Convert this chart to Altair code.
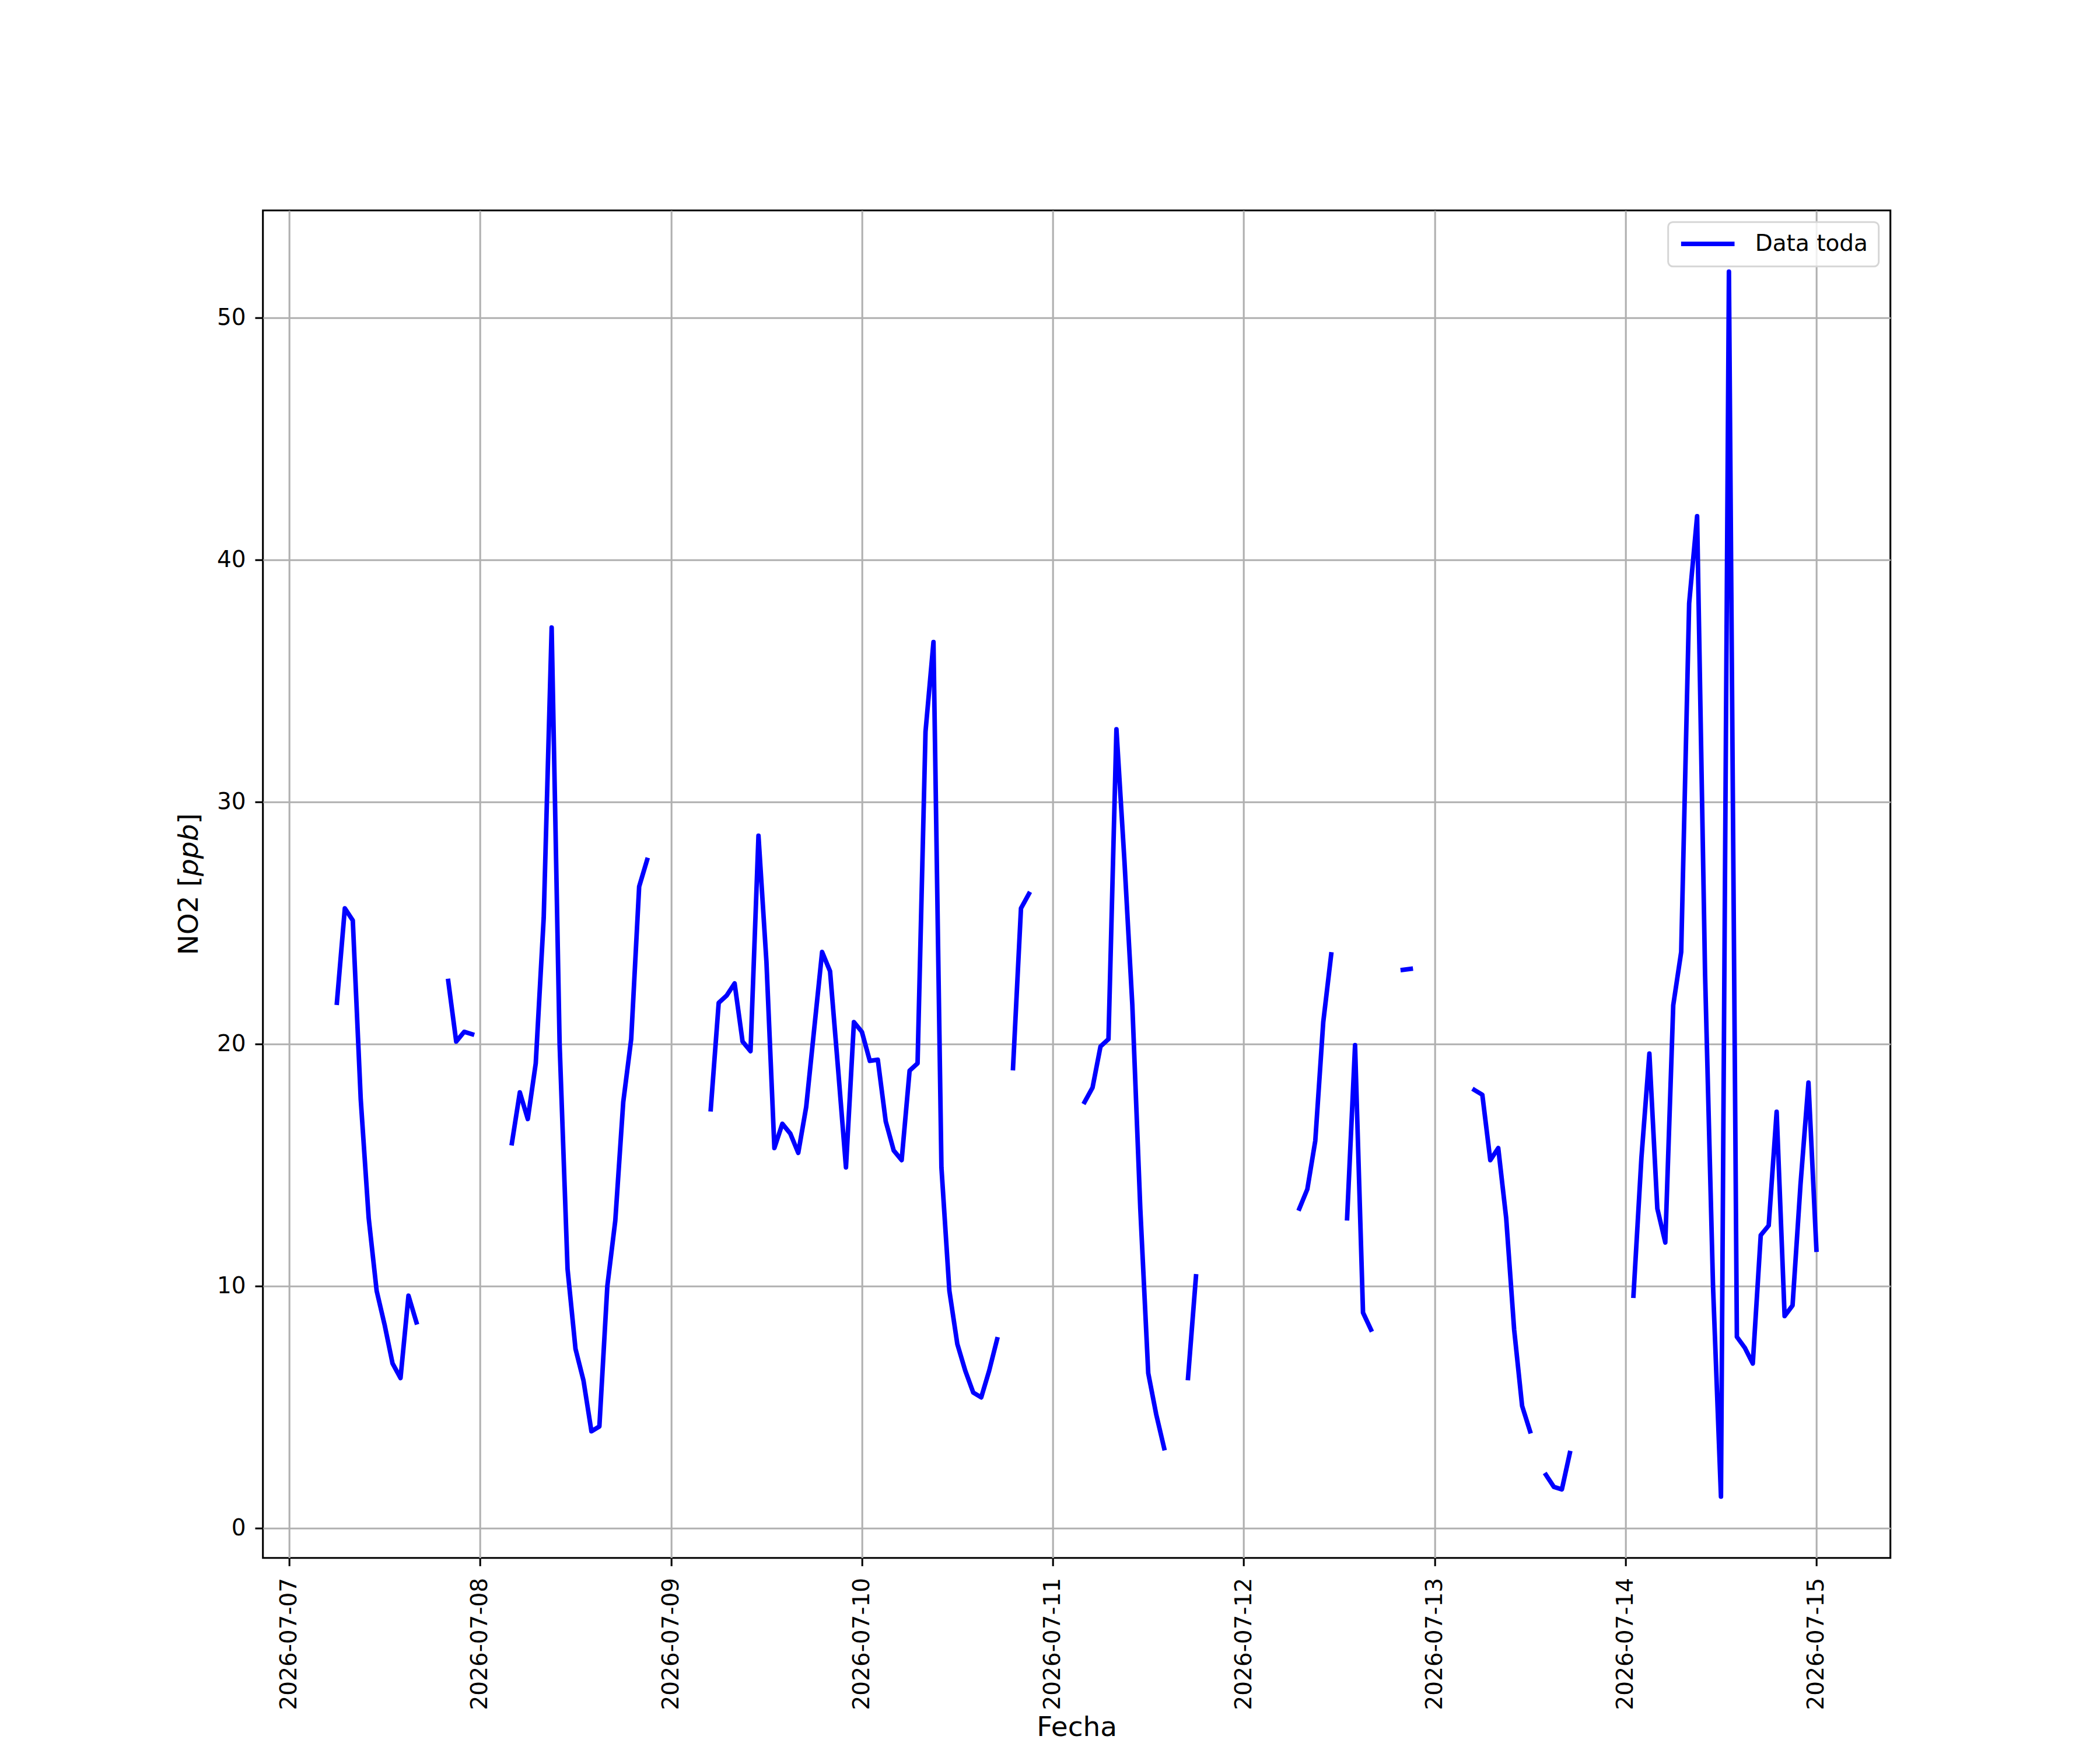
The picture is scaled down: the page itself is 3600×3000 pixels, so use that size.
import altair as alt
import pandas as pd

# Hourly NO2 values (ppb) per day, hours 00..23 (None = no data)
d0707 = [None, None, None, None, None, None, 21.7, 25.6, 25.1, 17.7, 12.8, 9.8,
         8.4, 6.8, 6.2, 9.6, 8.5, None, None, None, 22.6, 20.1, 20.5, 20.4]
d0708 = [None, None, None, None, 15.9, 18.0, 16.9, 19.2, 25.2, 37.2, 20.0, 10.7,
         7.4, 6.1, 4.0, 4.2, 10.0, 12.7, 17.6, 20.2, 26.5, 27.6, None, None]
d0709 = [None, None, None, None, None, 17.3, 21.7, 22.0, 22.5, 20.1, 19.7, 28.6,
         23.4, 15.7, 16.7, 16.3, 15.5, 17.4, 20.6, 23.8, 23.0, 19.0, 14.9, 20.9]
d0710 = [20.5, 19.3, 19.35, 16.8, 15.6, 15.2, 18.9, 19.2, 32.9, 36.6, 14.9, 9.8,
         7.6, 6.5, 5.6, 5.4, 6.5, 7.8, None, 19.0, 25.6, 26.2, None, None]
d0711 = [None, None, None, None, 17.6, 18.2, 19.9, 20.2, 33.0, 27.6, 21.6, 13.2,
         6.4, 4.7, 3.3, None, None, 6.2, 10.4, None, None, None, None, None]
d0712 = [None, None, None, None, None, None, None, 13.2, 14.0, 16.0, 20.9, 23.7,
         None, 12.8, 19.95, 8.9, 8.2, None, None, None, 23.06, 23.1, None, None]
d0713 = [None, None, None, None, None, 18.1, 17.9, 15.2, 15.7, 12.8, 8.2, 5.05,
         4.0, None, 2.2, 1.7, 1.6, 3.1, None, None, None, None, None, None]
d0714 = [None, 9.6, 15.3, 19.6, 13.2, 11.8, 21.6, 23.8, 38.2, 41.8, 22.9, 10.0,
         1.3, 51.9, 7.9, 7.45, 6.8, 12.1, 12.5, 17.2, 8.76, 9.2, 14.2, 18.4]
d0715 = [11.5]

tick_days = ["2026-07-07", "2026-07-08", "2026-07-09", "2026-07-10", "2026-07-11",
             "2026-07-12", "2026-07-13", "2026-07-14", "2026-07-15"]
y_ticks = [0, 10, 20, 30, 40, 50]
series_name = "Data toda"
y_title_parts = ["NO2 [", "ppb", "]"]
y_title_styles = ["normal", "italic", "normal"]

values = d0707 + d0708 + d0709 + d0710 + d0711 + d0712 + d0713 + d0714 + d0715
times = pd.date_range("2026-07-07 00:00", periods=len(values), freq="h")
df = pd.DataFrame({"Fecha": times, "NO2": values})
df["seg"] = df["NO2"].isna().cumsum()
df = df.dropna().reset_index(drop=True)
df["serie"] = series_name


def dt(s, h=0, m=0):
    y, mo, d = [int(p) for p in s.split("-")]
    return alt.DateTime(year=y, month=mo, date=d, hours=h, minutes=m)


x_vals = [dt(s) for s in tick_days]
x_dom = [dt("2026-07-06", 20, 42), dt("2026-07-15", 9, 18)]

FONT = "DejaVu Sans"
LW = 3.1
DLW = 7.8
W, H = 2790, 2310
TFS = 47

line = alt.Chart(df).mark_line(
    strokeWidth=DLW, strokeJoin="round", strokeCap="square"
).encode(
    x=alt.X("Fecha:T", scale=alt.Scale(domain=x_dom),
            axis=alt.Axis(values=x_vals, format="%Y-%m-%d", labelAngle=270,
                          labelAlign="right", labelBaseline="middle",
                          labelPadding=20, title="Fecha",
                          titleBaseline="alphabetic", titleY=305)),
    y=alt.Y("NO2:Q", scale=alt.Scale(domain=[-1.23, 54.43], nice=False, zero=False),
            axis=alt.Axis(values=y_ticks, labelPadding=16, title=None)),
    color=alt.Color("serie:N", scale=alt.Scale(domain=[series_name], range=["#0000ff"]),
                    legend=alt.Legend(title=None, orient="top-right", offset=20)),
    detail="seg:N",
)

# y-axis title with italic unit, built from its three text parts
char_w = {"N": 0.748, "O": 0.787, "2": 0.636, " ": 0.318, "[": 0.390,
          "p": 0.635, "b": 0.635, "]": 0.390}
widths = [sum(char_w[c] for c in p) * TFS for p in y_title_parts]
total = sum(widths)
starts = []
pos = H / 2 + total / 2
for w in widths:
    starts.append(pos)
    pos -= w

title_layers = []
for part, style, y0 in zip(y_title_parts, y_title_styles, starts):
    title_layers.append(
        alt.Chart(pd.DataFrame({"t": [part]})).mark_text(
            angle=270, align="left", baseline="alphabetic", font=FONT,
            fontSize=TFS, fontStyle=style, color="black",
        ).encode(text="t:N", x=alt.value(-112), y=alt.value(y0))
    )

chart = alt.layer(line, *title_layers).properties(
    width=W, height=H,
    autosize=alt.AutoSizeParams(type="none"),
    padding={"left": 442.7, "top": 352.7, "right": 351, "bottom": 321},
).configure(
    font=FONT,
).configure_view(
    stroke="black", strokeWidth=LW,
).configure_axis(
    labelFont=FONT, titleFont=FONT, labelFontSize=39, titleFontSize=TFS,
    labelColor="black", titleColor="black", titleFontWeight="normal",
    tickSize=13.7, tickWidth=LW, tickColor="black",
    grid=True, gridColor="#b0b0b0", gridWidth=LW,
    domain=False, labelFlush=False, labelOverlap=False, labelLimit=0,
).configure_legend(
    labelFont=FONT, labelFontSize=39, labelColor="black", labelLimit=0,
    symbolType="stroke", symbolSize=8400, symbolStrokeWidth=DLW,
    labelOffset=31, padding=18, strokeColor="#d6d6d6", fillColor="rgba(255,255,255,0.8)",
    cornerRadius=8, strokeWidth=3, clipHeight=39,
)

chart.save("out.html", embed_options={"renderer": "svg", "actions": False})
